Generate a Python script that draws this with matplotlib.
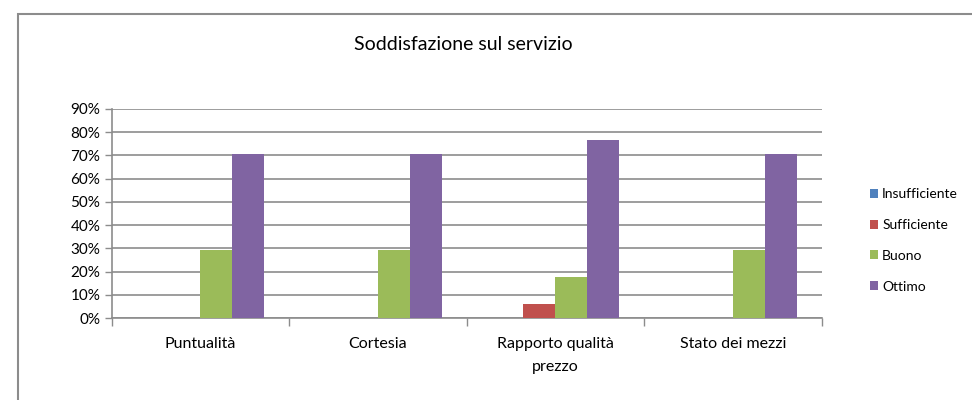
import matplotlib
matplotlib.use("Agg")
import matplotlib.pyplot as plt
from matplotlib.patches import Rectangle
from matplotlib.ticker import FuncFormatter
import numpy as np

categories = ["Puntualità", "Cortesia", "Rapporto qualità\nprezzo", "Stato dei mezzi"]
series_names = ["Insufficiente", "Sufficiente", "Buono", "Ottimo"]
insufficiente = [0.0, 0.0, 0.0, 0.0]
sufficiente = [0.0, 0.0, 0.059, 0.0]
buono = [0.294, 0.294, 0.176, 0.294]
ottimo = [0.706, 0.706, 0.765, 0.706]
colors = ["#4F81BD", "#C0504D", "#9BBB59", "#8064A2"]
yticks = [0.0, 0.1, 0.2, 0.3, 0.4, 0.5, 0.6, 0.7, 0.8, 0.9]

plt.rcParams['font.family'] = ['Lato', 'DejaVu Sans']

fig = plt.figure(figsize=(9.72, 4.0), dpi=100)
fig.patches.append(Rectangle((0.019, -0.1), 1.2, 1.065, transform=fig.transFigure,
                             fill=False, edgecolor="#8c8c8c", linewidth=1.5, zorder=0))
ax = fig.add_axes([0.1148, 0.205, 0.7304, 0.5225])

data = [insufficiente, sufficiente, buono, ottimo]
x = np.arange(len(categories))
w = 0.18
for i, (vals, name, c) in enumerate(zip(data, series_names, colors)):
    ax.bar(x + (i - 1.5) * w, vals, width=w, color=c, label=name, zorder=3, linewidth=0)

ax.set_xlim(-0.5, len(categories) - 0.5)
ax.set_ylim(0, 0.9)
ax.set_yticks(yticks)
ax.yaxis.set_major_formatter(FuncFormatter(lambda v, p: f"{v*100:.0f}%"))
ax.grid(axis='y', color="#8c8c8c", linewidth=1.2, zorder=0)
ax.set_axisbelow(True)

ax.set_xticks(np.arange(-0.5, len(categories) + 0.5, 1.0))
ax.set_xticklabels([])
ax.set_xticks(x, minor=True)
ax.set_xticklabels(categories, minor=True, fontsize=11.5, linespacing=1.8)
ax.tick_params(axis='x', which='minor', length=0, pad=14)
ax.tick_params(axis='x', which='major', length=6, color="#8c8c8c", width=1)
ax.tick_params(axis='y', length=5, color="#8c8c8c", width=1, labelsize=11, pad=3)

for s in ['top', 'right']:
    ax.spines[s].set_visible(False)
for s in ['left', 'bottom']:
    ax.spines[s].set_color("#8c8c8c")
    ax.spines[s].set_linewidth(1.2)

fig.text(0.477, 0.8875, "Soddisfazione sul servizio", ha='center', va='center', fontsize=14)

leg = ax.legend(loc='center left', bbox_to_anchor=(0.889, 0.399), bbox_transform=fig.transFigure,
                frameon=False, fontsize=10, handlelength=0.6, handleheight=0.6,
                handletextpad=0.3, labelspacing=1.35, borderaxespad=0)

fig.savefig("out.png", dpi=100)
